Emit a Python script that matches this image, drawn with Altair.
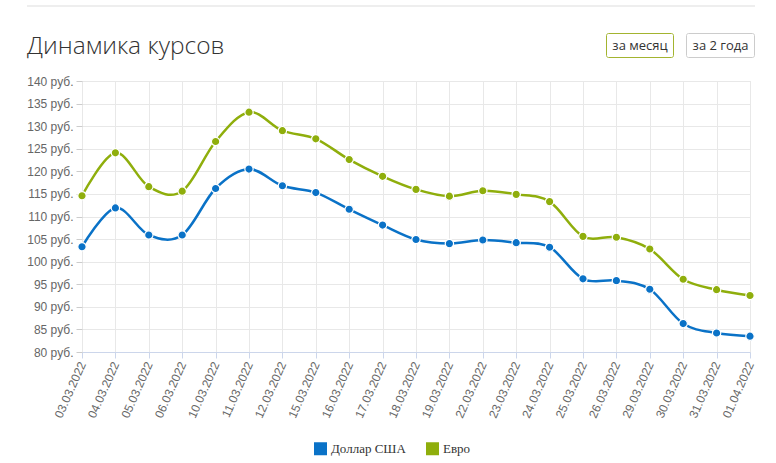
import altair as alt
import pandas as pd

dates = ["03.03.2022", "04.03.2022", "05.03.2022", "06.03.2022", "10.03.2022",
         "11.03.2022", "12.03.2022", "15.03.2022", "16.03.2022", "17.03.2022",
         "18.03.2022", "19.03.2022", "22.03.2022", "23.03.2022", "24.03.2022",
         "25.03.2022", "26.03.2022", "29.03.2022", "30.03.2022", "31.03.2022",
         "01.04.2022"]
usd = [103.3, 111.9, 105.9, 105.9, 116.2, 120.5, 116.8, 115.3, 111.6, 108.1,
       104.9, 104.0, 104.8, 104.2, 103.2, 96.2, 95.8, 93.9, 86.3, 84.2, 83.5]
eur = [114.6, 124.1, 116.6, 115.6, 126.6, 133.1, 129.0, 127.2, 122.6, 118.9,
       116.0, 114.5, 115.7, 114.9, 113.3, 105.6, 105.4, 102.8, 96.1, 93.8, 92.5]
series = ["Доллар США", "Евро"]
colors = ["#0a72c7", "#8fae0c"]
y_ticks = list(range(80, 145, 5))

df = pd.concat([
    pd.DataFrame({"date": dates, "value": usd, "series": series[0]}),
    pd.DataFrame({"date": dates, "value": eur, "series": series[1]}),
])

W, H = 668, 271

color = alt.Color("series:N", scale=alt.Scale(domain=series, range=colors),
                  legend=alt.Legend(title=None, orient="none", legendX=232, legendY=361,
                                    direction="horizontal", symbolType="square",
                                    symbolSize=169, symbolStrokeWidth=0,
                                    labelFont="Liberation Serif", labelFontSize=13,
                                    labelColor="#333333", columnPadding=20,
                                    labelOffset=4, symbolOpacity=1))

x = alt.X("date:N", sort=dates, scale=alt.Scale(type="point", padding=0),
          axis=alt.Axis(title=None, labelAngle=-66, labelFontSize=12,
                        labelColor="#666666", labelFont="Liberation Sans",
                        domainColor="#ccd6eb", tickColor="#ccd6eb", tickSize=6,
                        grid=True, gridColor="#e8e8e8", labelPadding=4))
y = alt.Y("value:Q", scale=alt.Scale(domain=[80, 140], nice=False, zero=False),
          axis=alt.Axis(title=None, values=y_ticks, labelExpr="datum.value + ' руб.'",
                        labelFontSize=12, labelColor="#666666", labelFont="Liberation Sans",
                        domain=False, tickColor="#cccccc", tickSize=6, labelPadding=3,
                        grid=True, gridColor="#e8e8e8"))

base = alt.Chart(df)
lines = base.mark_line(interpolate="cardinal", strokeWidth=2.5).encode(x=x, y=y, color=color)
points = base.mark_circle(size=70, opacity=1, stroke="white", strokeWidth=1.2).encode(
    x=x, y=y, color=alt.Color("series:N", scale=alt.Scale(domain=series, range=colors), legend=None))

one = alt.Data(values=[{}])
topline = alt.Chart(one).mark_rule(color="#dddddd", strokeWidth=1).encode(
    x=alt.value(-55), x2=alt.value(673), y=alt.value(-75))
rightgrid = alt.Chart(one).mark_rule(color="#e8e8e8", strokeWidth=1).encode(
    x=alt.value(668), x2=alt.value(673), y=alt.value(H))
title = alt.Chart(one).mark_text(text="Динамика курсов", font="Open Sans", fontSize=24.5,
                                 fontWeight=300, color="#333333", align="left",
                                 baseline="middle").encode(x=alt.value(-55), y=alt.value(-34))
btn1 = alt.Chart(one).mark_rect(fill="white", stroke="#a3b42f", strokeWidth=1,
                                cornerRadius=2).encode(
    x=alt.value(524.5), x2=alt.value(591.5), y=alt.value(-47.5), y2=alt.value(-23.5))
btn2 = alt.Chart(one).mark_rect(fill="white", stroke="#cccccc", strokeWidth=1,
                                cornerRadius=2).encode(
    x=alt.value(604.5), x2=alt.value(672.5), y=alt.value(-47.5), y2=alt.value(-23.5))
t1 = alt.Chart(one).mark_text(text="за месяц", font="Open Sans", fontSize=13,
                              color="#333333", align="center", baseline="middle").encode(
    x=alt.value(558), y=alt.value(-35.5))
t2 = alt.Chart(one).mark_text(text="за 2 года", font="Open Sans", fontSize=13,
                              color="#333333", align="center", baseline="middle").encode(
    x=alt.value(638.5), y=alt.value(-35.5))

chart = alt.layer(lines, points, topline, title, btn1, btn2, t1, t2).properties(
    width=W, height=H,
    autosize=alt.AutoSizeParams(type="none"),
    padding={"left": 82, "top": 81, "right": 26, "bottom": 111},
).configure_view(stroke=None).configure(background="white")

chart.save("out.html", embed_options={"renderer": "svg", "actions": False})
